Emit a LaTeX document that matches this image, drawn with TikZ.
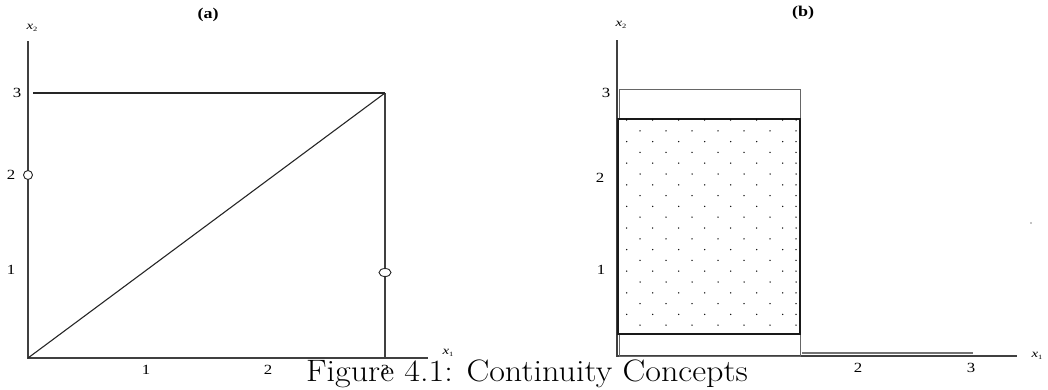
\documentclass[tikz,border=0pt]{standalone}
\usepackage{graphicx}
\usepackage{fontspec}
\newfontfamily\tms{Liberation Serif}
\newcommand{\hs}[1]{\scalebox{1.2}[1]{#1}}
\newcommand{\axlab}[1]{\scalebox{1.3}[1]{{\tms\fontsize{11.5}{11.5}\selectfont\itshape x}{\tms\fontsize{6.5}{6.5}\selectfont\raisebox{-2.5pt}{#1}}}}
\begin{document}
\begin{tikzpicture}[x=1pt,y=-1pt,
  ax/.style={line width=1.3pt, draw=black!75},
  ln/.style={line width=1.1pt, draw=black!85},
  thin/.style={line width=0.9pt, draw=black!60},
  thick/.style={line width=1.6pt, draw=black!90},
  lab/.style={font=\tms\fontsize{14}{14}\selectfont, inner sep=0pt},
  ttl/.style={font=\tms\bfseries\fontsize{15}{15}\selectfont, inner sep=0pt},
  hole/.style={line width=0.9pt, draw=black!85, fill=white}]
\useasboundingbox (0,0) rectangle (1048,389);
% ---------- panel (a)
\coordinate (Ao) at (28,358);
\coordinate (Atop) at (28,41);
\coordinate (Aend) at (428,358);
\coordinate (A3l) at (33,93);
\coordinate (A33) at (385,93);
\coordinate (A30) at (385,358);
\draw[ax] (Atop) -- (Ao) -- (Aend);
\draw[ln] (A3l) -- (A33);
\draw[ax] (A33) -- (A30);
\draw[ln] (Ao) -- (A33);
\node[hole, circle, minimum size=9pt, inner sep=0pt] (h1) at (28,175) {};
\draw[hole] (385,272.5) ellipse (6pt and 4pt);
\node[ttl] (ta) at (208,15) {\hs{(a)}};
\node[inner sep=0pt] (ya) at (32,28) {\axlab{2}};
\node[lab] (a3) at (17,93) {\hs{3}};
\node[lab] (a2) at (11,175) {\hs{2}};
\node[lab] (a1) at (11,270) {\hs{1}};
\node[lab] (ax1) at (146,370) {\hs{1}};
\node[lab] (ax2) at (268,370) {\hs{2}};
\node[lab] (ax3) at (385,370) {\hs{3}};
\node[inner sep=0pt] (xa) at (448,353) {\axlab{1}};
% ---------- panel (b)
\coordinate (Bo) at (617,356);
\coordinate (Btop) at (617,40);
\coordinate (Bend) at (1017,356);
\draw[ax] (Btop) -- (Bo) -- (Bend);
\draw[thin] (619,89) rectangle (800,119);
\draw[thin] (619,334) rectangle (800,356);
\draw[thick] (618,119) rectangle (800,334);
\foreach \k in {0,...,19}{
  \pgfmathsetmacro{\yy}{120+10.8*\k}
  \ifodd\k
    \foreach \j in {0,...,6}{\fill (640+26*\j,\yy) circle (0.75pt);}
  \else
    \foreach \j in {0,...,6}{\fill (626.7+26*\j,\yy) circle (0.75pt);}
    \fill (796,\yy) circle (0.75pt);
  \fi
}
\draw[line width=1.4pt, draw=black!55] (802,353) -- (973,353);
\fill (1031,223) circle (0.6pt);
\node[ttl] (tb) at (803,13) {\hs{(b)}};
\node[inner sep=0pt] (yb) at (621,25) {\axlab{2}};
\node[lab] (b3) at (606,93) {\hs{3}};
\node[lab] (b2) at (600,178) {\hs{2}};
\node[lab] (b1) at (601,270) {\hs{1}};
\node[lab] (bx2) at (858,368) {\hs{2}};
\node[lab] (bx3) at (971,368) {\hs{3}};
\node[inner sep=0pt] (xb) at (1037,356) {\axlab{1}};
% ---------- caption
\node[anchor=base, inner sep=0pt, font=\fontsize{31}{33}\selectfont] (cap) at (527,381) {\scalebox{1.1}[1]{Figure 4.1: Continuity Concepts}};
\end{tikzpicture}
\end{document}
